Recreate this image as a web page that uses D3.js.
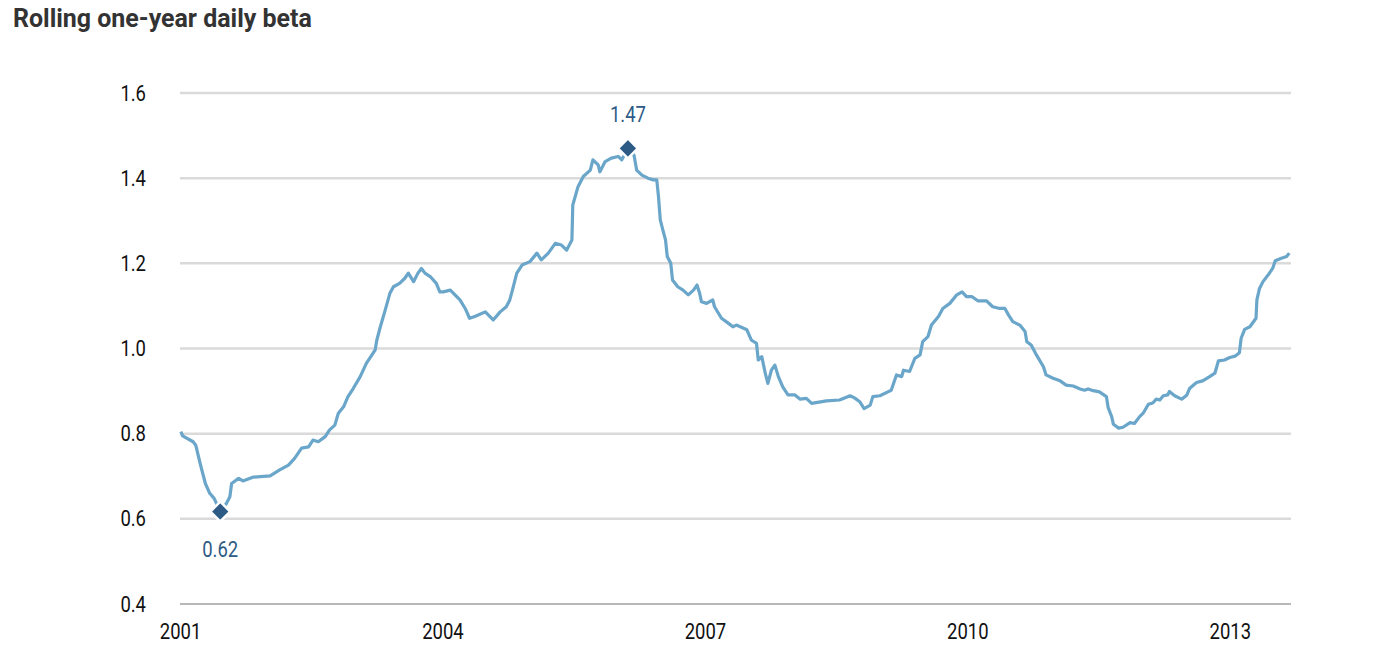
<!DOCTYPE html>
<html>
<head>
<meta charset="utf-8">
<script src="https://cdn.jsdelivr.net/npm/d3@7"></script>
<style>
  body { margin: 0; background: #fff; }
  text { font-family: Roboto, "Liberation Sans", sans-serif; }
</style>
</head>
<body>
<div id="chart"></div>
<script>
// Rolling one-year daily beta (decimal year, beta)
let years = [
  2001.01, 2001.03, 2001.15, 2001.18, 2001.23, 2001.29, 2001.34, 2001.39, 2001.46, 2001.53,
  2001.57, 2001.59, 2001.67, 2001.72, 2001.84, 2002.03, 2002.14, 2002.24, 2002.31, 2002.39,
  2002.47, 2002.52, 2002.58, 2002.66, 2002.71, 2002.77, 2002.81, 2002.87, 2002.92, 2002.98,
  2003.06, 2003.13, 2003.23, 2003.25, 2003.29, 2003.34, 2003.40, 2003.44, 2003.51, 2003.57,
  2003.61, 2003.67, 2003.72, 2003.76, 2003.80, 2003.86, 2003.93, 2003.97, 2004.01, 2004.09,
  2004.20, 2004.26, 2004.31, 2004.37, 2004.49, 2004.58, 2004.66, 2004.73, 2004.77, 2004.80,
  2004.85, 2004.91, 2005.00, 2005.08, 2005.13, 2005.21, 2005.29, 2005.36, 2005.42, 2005.48,
  2005.49, 2005.55, 2005.61, 2005.69, 2005.72, 2005.78, 2005.80, 2005.86, 2005.93, 2006.01,
  2006.05, 2006.12, 2006.19, 2006.22, 2006.28, 2006.35, 2006.41, 2006.45, 2006.47, 2006.49,
  2006.52, 2006.55, 2006.57, 2006.61, 2006.63, 2006.69, 2006.75, 2006.81, 2006.87, 2006.91,
  2006.94, 2006.96, 2007.02, 2007.09, 2007.11, 2007.19, 2007.27, 2007.32, 2007.36, 2007.48,
  2007.53, 2007.59, 2007.61, 2007.65, 2007.69, 2007.72, 2007.76, 2007.80, 2007.84, 2007.89,
  2007.95, 2008.03, 2008.09, 2008.16, 2008.22, 2008.39, 2008.54, 2008.66, 2008.71, 2008.77,
  2008.82, 2008.89, 2008.92, 2009.00, 2009.08, 2009.13, 2009.19, 2009.25, 2009.27, 2009.34,
  2009.40, 2009.46, 2009.49, 2009.55, 2009.59, 2009.67, 2009.72, 2009.80, 2009.88, 2009.94,
  2009.99, 2010.05, 2010.12, 2010.22, 2010.29, 2010.37, 2010.43, 2010.47, 2010.52, 2010.60,
  2010.66, 2010.68, 2010.73, 2010.79, 2010.87, 2010.90, 2010.98, 2011.06, 2011.13, 2011.21,
  2011.29, 2011.34, 2011.38, 2011.44, 2011.51, 2011.59, 2011.61, 2011.65, 2011.67, 2011.73,
  2011.78, 2011.86, 2011.91, 2011.97, 2012.01, 2012.07, 2012.12, 2012.16, 2012.20, 2012.24,
  2012.29, 2012.31, 2012.37, 2012.45, 2012.51, 2012.54, 2012.62, 2012.69, 2012.77, 2012.83,
  2012.87, 2012.94, 2013.00, 2013.06, 2013.11, 2013.13, 2013.17, 2013.23, 2013.30, 2013.31,
  2013.34, 2013.38, 2013.44, 2013.49, 2013.52, 2013.59, 2013.65, 2013.68
];
let beta = [
  0.805, 0.795, 0.781, 0.773, 0.730, 0.683, 0.660, 0.648, 0.617, 0.636,
  0.652, 0.683, 0.695, 0.689, 0.698, 0.701, 0.715, 0.726, 0.742, 0.766,
  0.769, 0.785, 0.781, 0.793, 0.809, 0.820, 0.848, 0.863, 0.887, 0.906,
  0.934, 0.965, 0.996, 1.020, 1.051, 1.086, 1.130, 1.145, 1.153, 1.165,
  1.177, 1.157, 1.177, 1.188, 1.177, 1.169, 1.153, 1.133, 1.133, 1.137,
  1.114, 1.094, 1.071, 1.075, 1.086, 1.067, 1.086, 1.098, 1.114, 1.137,
  1.177, 1.196, 1.204, 1.224, 1.208, 1.224, 1.247, 1.243, 1.231, 1.255,
  1.337, 1.380, 1.404, 1.419, 1.443, 1.431, 1.415, 1.439, 1.447, 1.451,
  1.443, 1.470, 1.454, 1.419, 1.407, 1.400, 1.396, 1.396, 1.356, 1.302,
  1.278, 1.255, 1.216, 1.200, 1.161, 1.145, 1.137, 1.126, 1.137, 1.149,
  1.130, 1.110, 1.106, 1.114, 1.098, 1.071, 1.059, 1.051, 1.055, 1.044,
  1.020, 1.012, 0.973, 0.981, 0.942, 0.918, 0.949, 0.961, 0.934, 0.910,
  0.891, 0.891, 0.881, 0.883, 0.871, 0.877, 0.879, 0.889, 0.884, 0.875,
  0.859, 0.867, 0.887, 0.889, 0.897, 0.902, 0.938, 0.934, 0.949, 0.946,
  0.977, 0.985, 1.016, 1.028, 1.055, 1.075, 1.094, 1.106, 1.126, 1.133,
  1.122, 1.122, 1.112, 1.112, 1.098, 1.094, 1.094, 1.079, 1.063, 1.055,
  1.040, 1.016, 1.008, 0.985, 0.957, 0.938, 0.930, 0.924, 0.914, 0.912,
  0.905, 0.902, 0.905, 0.901, 0.898, 0.887, 0.861, 0.840, 0.822, 0.813,
  0.815, 0.826, 0.824, 0.840, 0.848, 0.869, 0.872, 0.881, 0.879, 0.889,
  0.891, 0.899, 0.889, 0.881, 0.891, 0.906, 0.920, 0.924, 0.934, 0.942,
  0.971, 0.973, 0.979, 0.982, 0.990, 1.024, 1.045, 1.051, 1.071, 1.114,
  1.141, 1.157, 1.173, 1.188, 1.206, 1.212, 1.216, 1.224
];
let xTicks = [2001, 2004, 2007, 2010, 2013];
let yTicks = [0.4, 0.6, 0.8, 1.0, 1.2, 1.4, 1.6];

let width = 1400;
let height = 648;
let margin = { top: 93, right: 109, bottom: 44, left: 180 };
let squeeze = 0.84; // the original uses a condensed face, so narrow Roboto a bit

let data = years.map(function(y, i) {
  return { year: y, value: beta[i] };
});

let svg = d3.select("#chart").append("svg")
  .attr("width", width)
  .attr("height", height);

svg.append("text")
  .attr("transform", "translate(13,27) scale(0.96,1)")
  .attr("font-size", 26)
  .attr("font-weight", "bold")
  .attr("fill", "#333")
  .text("Rolling one-year daily beta");

let x = d3.scaleLinear()
  .domain([2001, 2013.70])
  .range([margin.left, width - margin.right]);

let y = d3.scaleLinear()
  .domain([0.4, 1.6])
  .range([height - margin.bottom, margin.top]);

// gridlines
svg.append("g")
  .selectAll("line")
  .data(yTicks.filter(function(d) { return d > 0.4; }))
  .enter().append("line")
  .attr("x1", x.range()[0])
  .attr("x2", x.range()[1])
  .attr("y1", function(d) { return y(d); })
  .attr("y2", function(d) { return y(d); })
  .attr("stroke", "#dadada")
  .attr("stroke-width", 2.5);

// baseline
svg.append("line")
  .attr("x1", x.range()[0])
  .attr("x2", x.range()[1])
  .attr("y1", y(0.4))
  .attr("y2", y(0.4))
  .attr("stroke", "#a0a0a0")
  .attr("stroke-width", 1.5);

// y axis labels
let yPad = 34;
let yAxis = d3.axisLeft(y)
  .tickValues(yTicks)
  .tickFormat(d3.format(".1f"))
  .tickSize(0)
  .tickPadding(yPad);

let gy = svg.append("g")
  .attr("transform", "translate(" + margin.left + ",0)")
  .call(yAxis);
gy.select(".domain").remove();
gy.selectAll("text")
  .attr("font-size", 22)
  .attr("fill", "#111")
  .attr("x", -yPad / squeeze)
  .attr("transform", "scale(" + squeeze + ",1)")
  .style("font-family", "Roboto, sans-serif");

// x axis labels
let xAxis = d3.axisBottom(x)
  .tickValues(xTicks)
  .tickFormat(d3.format("d"))
  .tickSize(0)
  .tickPadding(19);

let gx = svg.append("g")
  .attr("transform", "translate(0," + y(0.4) + ")")
  .call(xAxis);
gx.select(".domain").remove();
gx.selectAll("text")
  .attr("font-size", 22)
  .attr("fill", "#111")
  .attr("transform", "scale(" + squeeze + ",1)")
  .style("font-family", "Roboto, sans-serif");

// the line
let line = d3.line()
  .x(function(d) { return x(d.year); })
  .y(function(d) { return y(d.value); });

svg.append("path")
  .datum(data)
  .attr("fill", "none")
  .attr("stroke", "#6aa5ca")
  .attr("stroke-width", 3.2)
  .attr("stroke-linejoin", "round")
  .attr("d", line);

// min and max markers
let lo = data[d3.minIndex(data, function(d) { return d.value; })];
let hi = data[d3.maxIndex(data, function(d) { return d.value; })];
let marks = [
  { p: lo, dy: 45 },
  { p: hi, dy: -26 }
];

let diamond = d3.symbol().type(d3.symbolDiamond2).size(250);

svg.selectAll(".mark")
  .data(marks)
  .enter().append("path")
  .attr("class", "mark")
  .attr("d", diamond)
  .attr("transform", function(d) {
    return "translate(" + x(d.p.year) + "," + y(d.p.value) + ")";
  })
  .attr("fill", "#2d5b86")
  .attr("stroke", "#fff")
  .attr("stroke-width", 2.5);

svg.selectAll(".mark-label")
  .data(marks)
  .enter().append("text")
  .attr("class", "mark-label")
  .attr("transform", function(d) {
    return "translate(" + x(d.p.year) + "," + (y(d.p.value) + d.dy) + ") scale(" + squeeze + ",1)";
  })
  .attr("text-anchor", "middle")
  .attr("font-size", 22)
  .attr("fill", "#2d5b86")
  .text(function(d) { return d3.format(".2f")(d.p.value); });
</script>
</body>
</html>
